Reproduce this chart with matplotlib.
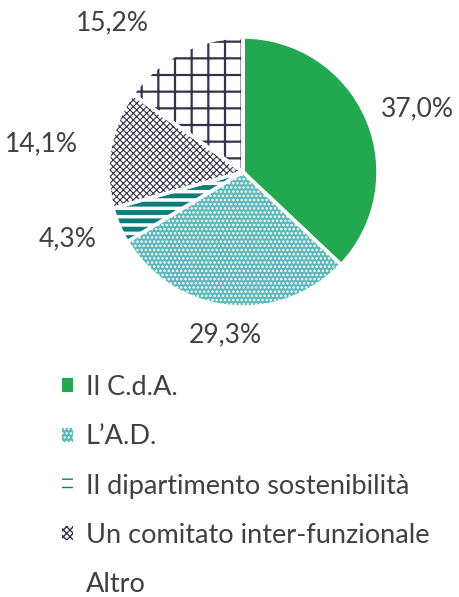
import numpy as np
import matplotlib
matplotlib.use("Agg")
import matplotlib.pyplot as plt
from matplotlib.patches import Patch

plt.rcParams['font.family'] = ['Lato', 'DejaVu Sans']

categories = ["Il C.d.A.", "L\u2019A.D.", "Il dipartimento sostenibilit\u00e0",
              "Un comitato inter-funzionale", "Altro"]
values = [37.0, 29.3, 4.3, 14.1, 15.2]
pct_labels = ["37,0%", "29,3%", "4,3%", "14,1%", "15,2%"]

# look of each slice: face, hatch, hatch colour, hatch width
faces = ["#22A94F", "#5DB7BA", "white", "white", "white"]
hatches = [None, "....", "--", "xxxxx", "+"]
hatch_cols = ["#22A94F", "white", "#0E7C7B", "#34334A", "#34334A"]
hatch_lw = [1, 1.2, 3.5, 0.8, 1.6]
# label placement (radius, angle nudge in degrees)
label_r = [1.37, 1.21, 1.39, 1.51, 1.47]
label_nudge = [-3.5, 0, -2.6, 2.0, 13.7]

text_col = "#404040"

fig = plt.figure(figsize=(4.6, 5.97), dpi=100)
cx, cy, R = 243, 172, 135
ax = fig.add_axes([(cx - R) / 460, (597 - cy - R) / 597, 2 * R / 460, 2 * R / 597])

wedges, _ = ax.pie(values, startangle=90, counterclock=False, radius=1,
                   colors=faces, wedgeprops=dict(linewidth=0))
for w, h, hc, lw in zip(wedges, hatches, hatch_cols, hatch_lw):
    if h:
        w.set_hatch(h)
        w.set_edgecolor(hc)
        if hasattr(w, "set_hatch_linewidth"):
            w.set_hatch_linewidth(lw)

# white borders between slices
ax.pie(values, startangle=90, counterclock=False, radius=1,
       colors=["none"] * len(values),
       wedgeprops=dict(linewidth=2.5, edgecolor="white", fill=False))

for w, lab, r, dn in zip(wedges, pct_labels, label_r, label_nudge):
    ang = np.deg2rad((w.theta1 + w.theta2) / 2 + dn)
    ax.text(r * np.cos(ang), r * np.sin(ang), lab, ha="center", va="center",
            fontsize=19, color=text_col)

ax.set_xlim(-1, 1)
ax.set_ylim(-1, 1)
ax.set_aspect("equal")
ax.axis("off")

handles = []
for i in range(len(categories)):
    if i == len(categories) - 1:
        p = Patch(facecolor="white", edgecolor="white")
    else:
        p = Patch(facecolor=faces[i], edgecolor=hatch_cols[i], hatch=hatches[i], linewidth=0)
    handles.append(p)

leg = fig.legend(handles, categories, loc="upper left", bbox_to_anchor=(62 / 460, 1 - 375 / 597),
                 frameon=False, fontsize=19.5, handlelength=0.42, handleheight=0.42,
                 handletextpad=0.45, labelspacing=0.9, labelcolor=text_col,
                 borderaxespad=0, borderpad=0)

fig.savefig("out.png", dpi=100)
